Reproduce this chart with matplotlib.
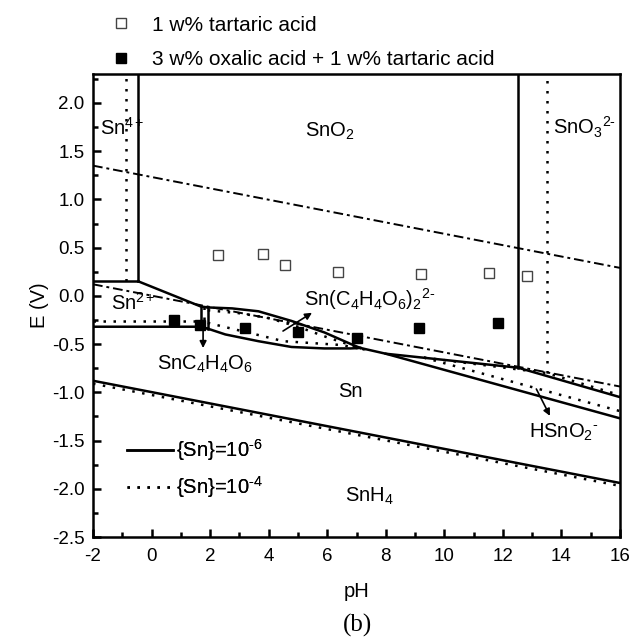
import matplotlib
matplotlib.use('Agg')
import matplotlib.pyplot as plt
from matplotlib.lines import Line2D
from matplotlib.ticker import MultipleLocator

plt.rcParams['font.family'] = ['Liberation Sans', 'DejaVu Sans']
plt.rcParams['mathtext.fontset'] = 'custom'
plt.rcParams['mathtext.rm'] = 'Liberation Sans'
plt.rcParams['mathtext.it'] = 'Liberation Sans'
plt.rcParams['axes.unicode_minus'] = False

HY = '\u2010'  # hyphen, the reference uses a short dash in superscripts

# measured points
ph_open = [2.27, 3.82, 4.55, 6.36, 9.2, 11.54, 12.83]
e_open = [0.42, 0.43, 0.32, 0.25, 0.23, 0.235, 0.21]
ph_filled = [0.75, 1.65, 3.2, 5.0, 7.0, 9.15, 11.85]
e_filled = [-0.25, -0.30, -0.33, -0.37, -0.44, -0.33, -0.28]

# {Sn}=1e-6 boundaries (solid)
solid_lines = {
    'sn4_sno2': ([-0.45, -0.45], [0.15, 2.3]),
    'sn4_sn2': ([-2, -0.45], [0.15, 0.15]),
    'sno2_sn2': ([-0.45, 1.68, 1.92], [0.15, -0.11, -0.12]),
    'sn2_sn': ([-2, 1.68, 1.92], [-0.32, -0.32, -0.34]),
    'box_left': ([1.68, 1.68], [-0.11, -0.32]),
    'box_right': ([1.92, 1.92], [-0.12, -0.34]),
    'lens_up': ([1.92, 2.75, 3.65, 4.78, 5.91, 6.81, 7.13],
                [-0.12, -0.13, -0.16, -0.26, -0.38, -0.50, -0.54]),
    'lens_low': ([1.92, 2.52, 3.65, 4.78, 5.9, 6.8, 7.13],
                 [-0.34, -0.40, -0.47, -0.53, -0.545, -0.545, -0.54]),
    'sn_hsno2': ([7.13, 8.0, 16], [-0.54, -0.60, -1.27]),
    'hsno2_top': ([8.0, 12.52, 16], [-0.60, -0.745, -1.05]),
    'sno2_sno3': ([12.52, 12.52], [-0.745, 2.3]),
    'snh4': ([-2, 16], [-0.88, -1.94]),
}

# {Sn}=1e-4 boundaries (dotted)
dotted_lines = {
    'sn4_sno2': ([-0.88, -0.88], [0.15, 2.3]),
    'sn2_sn': ([-2, 1.8], [-0.26, -0.26]),
    'box_mid': ([1.8, 1.8], [-0.12, -0.30]),
    'lens_up': ([1.92, 3, 4, 5, 6, 7.3], [-0.15, -0.18, -0.23, -0.32, -0.43, -0.56]),
    'lens_low': ([1.92, 2.6, 3.7, 4.5, 5.5, 6.5, 7.3],
                 [-0.28, -0.33, -0.41, -0.47, -0.49, -0.51, -0.56]),
    'hsno2_top': ([9.3, 13.5, 16], [-0.64, -0.80, -1.03]),
    'sn_hsno2': ([9.3, 16], [-0.64, -1.195]),
    'sno2_sno3': ([13.5, 13.5], [-0.80, 2.3]),
    'snh4': ([-2, 16], [-0.91, -1.97]),
}

# water stability lines
ph_water = [-2, 16]
e_o2 = [1.35, 0.29]
e_h2 = [0.12, -0.94]

fig = plt.figure(figsize=(6.34, 6.4), dpi=100)
ax = fig.add_axes([93/634, 1-537/640, 527/634, 463/640])

dot_style = dict(color='black', lw=1.8, linestyle=(0, (1, 3)))
dashdot_style = dict(color='black', lw=1.4, linestyle=(0, (5, 2, 1.5, 2)))

for key, (x, y) in dotted_lines.items():
    ax.plot(x, y, **dot_style)
for key, (x, y) in solid_lines.items():
    ax.plot(x, y, color='black', lw=1.8)
ax.plot(ph_water, e_o2, **dashdot_style)
ax.plot(ph_water, e_h2, **dashdot_style)

ax.plot(ph_open, e_open, 's', ms=6.5, mfc='white', mec='#444444', mew=1.0, ls='none')
ax.plot(ph_filled, e_filled, 's', ms=6.5, color='black', ls='none')

fs = 14.5
ax.text(-1.75, 1.74, r'Sn$^{4+}$', fontsize=fs, va='center')
ax.text(5.23, 1.71, r'SnO$_2$', fontsize=fs, va='center')
ax.text(13.7, 1.75, r'SnO$_3$$^{2' + HY + '}$', fontsize=fs, va='center')
ax.text(-1.37, -0.07, r'Sn$^{2+}$', fontsize=fs, va='center')
ax.text(5.2, -0.03, r'Sn(C$_4$H$_4$O$_6$)$_2$$^{2' + HY + '}$', fontsize=fs, va='center')
ax.text(0.2, -0.71, r'SnC$_4$H$_4$O$_6$', fontsize=fs, va='center')
ax.text(6.36, -0.99, 'Sn', fontsize=fs, va='center')
ax.text(12.9, -1.42, r'HSnO$_2$$^{' + HY + '}$', fontsize=fs, va='center')
ax.text(6.6, -2.08, r'SnH$_4$', fontsize=fs, va='center')

arrow = dict(arrowstyle='-|>', color='black', lw=1.2, mutation_scale=10)
ax.annotate('', xy=(1.76, -0.57), xytext=(1.76, -0.33), arrowprops=arrow)
ax.annotate('', xy=(5.56, -0.16), xytext=(4.41, -0.38), arrowprops=arrow)
ax.annotate('', xy=(13.65, -1.27), xytext=(13.1, -0.94), arrowprops=arrow)

ax.set_xlim(-2, 16)
ax.set_ylim(-2.5, 2.3)
ax.xaxis.set_major_locator(MultipleLocator(2))
ax.xaxis.set_minor_locator(MultipleLocator(1))
ax.yaxis.set_major_locator(MultipleLocator(0.5))
ax.yaxis.set_minor_locator(MultipleLocator(0.25))
ax.yaxis.set_major_formatter(plt.FormatStrFormatter('%.1f'))
ax.tick_params(which='both', direction='in', width=1.8, labelsize=13.5)
ax.tick_params(which='major', length=6)
ax.tick_params(which='minor', length=3.5)
ax.tick_params(axis='x', pad=8)
ax.tick_params(axis='y', pad=6)
for s in ax.spines.values():
    s.set_linewidth(1.8)

ax.set_xlabel('pH', fontsize=14.5, labelpad=12)
ax.set_ylabel('E (V)', fontsize=14.5, labelpad=2)

# bottom legend: concentrations
conc = [Line2D([], [], color='black', lw=1.8),
        Line2D([], [], **dot_style)]
leg1 = ax.legend(conc, ['{Sn}=10$^{' + HY + '6}$', '{Sn}=10$^{' + HY + '4}$'],
                 loc='lower left', bbox_to_anchor=(0.03, 0.04), frameon=False,
                 fontsize=14.5, handlelength=2.3, handletextpad=0.15, labelspacing=0.55)
ax.add_artist(leg1)

# top legend: experimental points
pts = [Line2D([], [], marker='s', ms=6.5, mfc='white', mec='#444444', ls='none'),
       Line2D([], [], marker='s', ms=6.5, color='black', ls='none')]
fig.legend(pts, ['1 w% tartaric acid', '3 w% oxalic acid + 1 w% tartaric acid'],
           loc='upper left', bbox_to_anchor=(0.145, 1.005), frameon=False, fontsize=15,
           handlelength=1.0, handletextpad=1.0, labelspacing=0.75)

fig.text(357/634, 1-625/640, '(b)', fontsize=18, family='Liberation Serif',
         ha='center', va='center')

fig.savefig('out.png', dpi=100)
